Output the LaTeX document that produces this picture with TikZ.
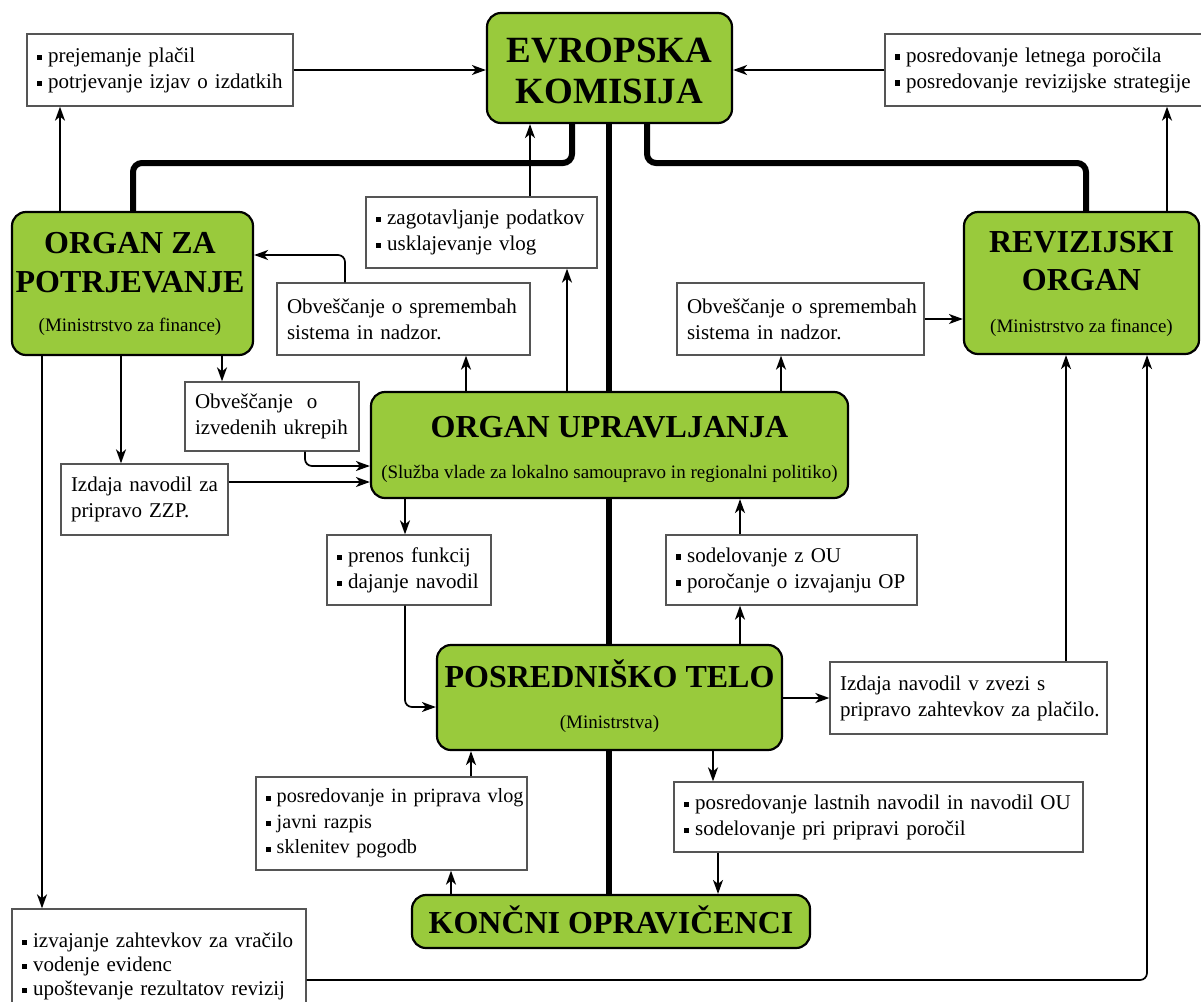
\documentclass[tikz,border=0pt]{standalone}
\usepackage{fontspec}
\setmainfont{Liberation Serif}
\usetikzlibrary{arrows.meta,calc,backgrounds}
\definecolor{grn}{RGB}{153,202,60}
\definecolor{bordgray}{RGB}{85,85,85}
\newcommand\mybul{\rule[0.11em]{0.25em}{0.25em}\hspace{0.28em}}
\begin{document}
\begin{tikzpicture}[x=1pt,y=-1pt,
  wbox/.style={draw=bordgray, line width=1.3pt, fill=white, inner xsep=10pt, inner ysep=0pt, align=left, font=\fontsize{21}{26}\selectfont},
  gbox/.style={draw=black, line width=2.2pt, fill=grn, rounded corners=14pt, inner sep=0pt},
  ttl/.style={font=\fontsize{32}{38}\selectfont\bfseries, inner sep=0pt, anchor=base},
  sub/.style={font=\fontsize{19}{23}\selectfont, inner sep=0pt, anchor=base},
  arr/.style={line width=1.7pt, -{Stealth[length=14pt,width=10pt,inset=4pt]}},
  rcorner/.style={rounded corners=7pt},
  spine/.style={line width=6pt, rounded corners=9pt}
]
\useasboundingbox (0,0) rectangle (1201,1001);

% green boxes
\node[gbox, minimum width=245, minimum height=110] (EK) at (609.5,68) {};
\node[gbox, minimum width=241, minimum height=143] (OZP) at (132.5,283.5) {};
\node[gbox, minimum width=235, minimum height=142] (RO) at (1081.5,283) {};
\node[gbox, minimum width=477, minimum height=106] (OU) at (609.5,445) {};
\node[gbox, minimum width=345, minimum height=105] (PT) at (609.5,697.5) {};
\node[gbox, minimum width=398, minimum height=53] (KO) at (611,921.5) {};

% titles
\node[ttl, font=\fontsize{37}{41}\selectfont\bfseries] (EKa) at (609.5,62) {EVROPSKA};
\node[ttl, font=\fontsize{37}{41}\selectfont\bfseries] (EKb) at (609.5,103) {KOMISIJA};
\node[ttl] (OZPa) at (130,253) {ORGAN ZA};
\node[ttl] (OZPb) at (130,292) {POTRJEVANJE};
\node[sub] (OZPs) at (130,331) {(Ministrstvo za finance)};
\node[ttl] (ROa) at (1081.5,252) {REVIZIJSKI};
\node[ttl] (ROb) at (1081.5,290) {ORGAN};
\node[sub] (ROs) at (1081.5,332) {(Ministrstvo za finance)};
\node[ttl] (OUa) at (609.5,437) {ORGAN UPRAVLJANJA};
\node[sub] (OUs) at (609.5,478) {(Služba vlade za lokalno samoupravo in regionalni politiko)};
\node[ttl] (PTa) at (609.5,687) {POSREDNIŠKO TELO};
\node[sub] (PTs) at (609.5,728) {(Ministrstva)};
\node[ttl] (KOa) at (611,933) {KONČNI OPRAVIČENCI};

% white boxes
\node[wbox, minimum width=266, minimum height=72, text width=246] (A) at (160,70)
  {\mbox{\mybul prejemanje plačil}\\\mbox{\mybul potrjevanje izjav o izdatkih}};
\node[wbox, minimum width=317, minimum height=72, text width=297] (B) at (1043.5,70)
  {\mbox{\mybul posredovanje letnega poročila}\\\mbox{\mybul posredovanje revizijske strategije}};
\node[wbox, minimum width=231, minimum height=71, text width=211] (C) at (481.5,232.5)
  {\mbox{\mybul zagotavljanje podatkov}\\\mbox{\mybul usklajevanje vlog}};
\node[wbox, minimum width=253, minimum height=72, text width=233] (D) at (403.5,319)
  {\mbox{Obveščanje o spremembah}\\\mbox{sistema in nadzor.}};
\node[wbox, minimum width=247, minimum height=72, text width=227] (E) at (800.5,319)
  {\mbox{Obveščanje o spremembah}\\\mbox{sistema in nadzor.}};
\node[wbox, minimum width=174, minimum height=69, text width=154] (F) at (272,416.5)
  {\mbox{Obveščanje~~o}\\\mbox{izvedenih ukrepih}};
\node[wbox, minimum width=167, minimum height=71, text width=147] (G) at (144.5,499.5)
  {\mbox{Izdaja navodil za}\\\mbox{pripravo ZZP.}};
\node[wbox, minimum width=294, minimum height=114, text width=274, font=\fontsize{21}{24}\selectfont] (H) at (159,966)
  {\mbox{\mybul izvajanje zahtevkov za vračilo}\\\mbox{\mybul vodenje evidenc}\\\mbox{\mybul upoštevanje rezultatov revizij}};
\node[wbox, minimum width=164, minimum height=70, text width=144] (I) at (409,570)
  {\mbox{\mybul prenos funkcij}\\\mbox{\mybul dajanje navodil}};
\node[wbox, minimum width=251, minimum height=70, text width=231] (K) at (791.5,570)
  {\mbox{\mybul sodelovanje z OU}\\\mbox{\mybul poročanje o izvajanju OP}};
\node[wbox, minimum width=277, minimum height=72, text width=257] (J) at (968.5,698)
  {\mbox{Izdaja navodil v zvezi s}\\\mbox{pripravo zahtevkov za plačilo.}};
\node[wbox, minimum width=271, minimum height=93, text width=251, font=\fontsize{20.2}{25.5}\selectfont] (L) at (391.5,823.5)
  {\mbox{\mybul posredovanje in priprava vlog}\\\mbox{\mybul javni razpis}\\\mbox{\mybul sklenitev pogodb}};
\node[wbox, minimum width=409, minimum height=70, text width=389] (M) at (878.5,817)
  {\mbox{\mybul posredovanje lastnih navodil in navodil OU}\\\mbox{\mybul sodelovanje pri pripravi poročil}};

% thick spine lines
\begin{scope}[on background layer]
\draw[spine] (EK.south -| 572,0) |- (133,163) -- (OZP.north -| 133,0);
\draw[spine] (EK.south -| 609,0) -- (KO.north -| 609,0);
\draw[spine] (EK.south -| 647,0) |- (1086,163) -- (RO.north -| 1086,0);
\end{scope}

% arrows
\draw[arr] (A.east) -- (A.east -| EK.west);
\draw[arr] (B.west) -- (B.west -| EK.east);
\draw[arr] (OZP.north -| 60,0) -- (A.south -| 60,0);
\draw[arr] (RO.north -| 1167,0) -- (B.south -| 1167,0);
\draw[arr] (C.north -| 530,0) -- (EK.south -| 530,0);
\draw[arr] (OU.north -| 567,0) -- (C.south -| 567,0);
\draw[arr] (OU.north -| 466,0) -- (D.south -| 466,0);
\draw[arr] (D.north -| 345,0) [rcorner] |- (OZP.east |- 0,255);
\draw[arr] (OU.north -| 781,0) -- (E.south -| 781,0);
\draw[arr] (E.east) -- (E.east -| RO.west);
\draw[arr] (OZP.south -| 222,0) -- (F.north -| 222,0);
\draw[arr] (F.south -| 305,0) [rcorner] |- (OU.west |- 0,466);
\draw[arr] (OZP.south -| 121,0) -- (G.north -| 121,0);
\draw[arr] (G.east |- 0,482) -- (OU.west |- 0,482);
\draw[arr] (OZP.south -| 42,0) -- (H.north -| 42,0);
\draw[arr] (H.east |- 0,980) [rcorner] -| (RO.south -| 1147,0);
\draw[arr] (OU.south -| 405,0) -- (I.north -| 405,0);
\draw[arr] (I.south -| 405,0) [rcorner] |- (PT.west |- 0,707);
\draw[arr] (PT.north -| 740,0) -- (K.south -| 740,0);
\draw[arr] (K.north -| 740,0) -- (OU.south -| 740,0);
\draw[arr] (PT.east |- 0,698) -- (J.west |- 0,698);
\draw[arr] (J.north -| 1066,0) -- (RO.south -| 1066,0);
\draw[arr] (L.north -| 471,0) -- (PT.south -| 471,0);
\draw[arr] (KO.north -| 451,0) -- (L.south -| 451,0);
\draw[arr] (PT.south -| 713,0) -- (M.north -| 713,0);
\draw[arr] (M.south -| 718,0) -- (KO.north -| 718,0);
\end{tikzpicture}
\end{document}
